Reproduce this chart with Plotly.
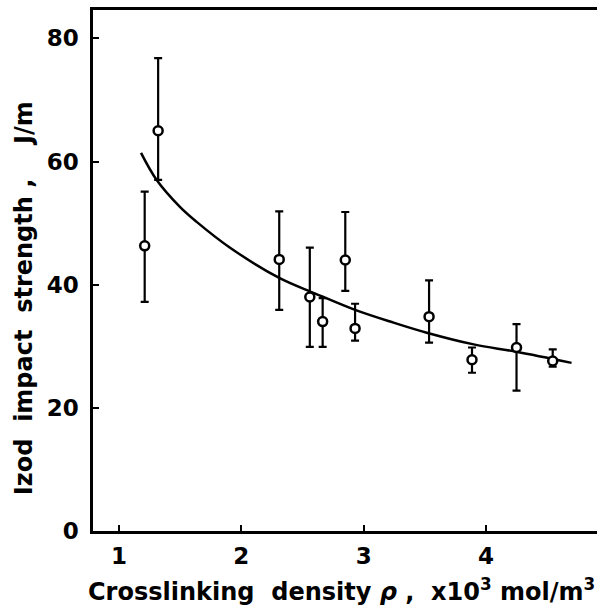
import plotly.graph_objects as go

# Measured data (crosslinking density, x10^3 mol/m^3) and Izod impact strength (J/m)
density = [1.21, 1.32, 2.31, 2.56, 2.665, 2.85, 2.93, 3.535, 3.886, 4.25, 4.546]
strength = [46.3, 65.0, 44.1, 38.0, 34.0, 44.0, 32.9, 34.8, 27.8, 29.8, 27.6]
err_top = [55.1, 76.8, 51.9, 46.0, 37.8, 51.8, 36.9, 40.7, 29.8, 33.6, 29.5]
err_bottom = [37.2, 57.0, 35.9, 29.9, 29.9, 39.0, 30.9, 30.6, 25.7, 22.8, 26.7]

# Fitted curve
curve_x = [1.18, 1.308, 1.5, 1.635, 1.908, 2.31, 2.6, 2.93, 3.25, 3.516, 3.9, 4.25, 4.70]
curve_y = [61.4, 57.0, 52.6, 50.2, 46.0, 41.1, 38.6, 35.9, 33.8, 32.2, 30.3, 29.1, 27.3]

x_ticks = [1, 2, 3, 4]
y_ticks = [0, 20, 40, 60, 80]

plus = [t - s for t, s in zip(err_top, strength)]
minus = [s - b for s, b in zip(strength, err_bottom)]

fig = go.Figure()
fig.add_trace(go.Scatter(
    x=curve_x, y=curve_y, mode="lines",
    line=dict(color="black", width=2.5, shape="spline", smoothing=1.0),
    hoverinfo="skip", showlegend=False))
fig.add_trace(go.Scatter(
    x=density, y=strength, mode="markers",
    marker=dict(symbol="circle", size=9, color="white",
                line=dict(color="black", width=2.5)),
    error_y=dict(type="data", symmetric=False, array=plus, arrayminus=minus,
                 color="black", thickness=2.2, width=4),
    showlegend=False))

ff = "DejaVu Sans"
title_font = dict(size=24, family=ff, weight="bold", color="black")
fig.update_layout(
    width=597, height=606,
    margin=dict(l=93, r=0, t=10, b=75, pad=0),
    paper_bgcolor="white", plot_bgcolor="white",
    font=dict(family=ff, color="black"),
    xaxis=dict(range=[0.7874, 4.908], tickvals=x_ticks, ticks="inside", ticklen=6,
               tickwidth=2, tickcolor="black", showline=True, linewidth=2.5,
               linecolor="black", mirror=True, showgrid=False, zeroline=False,
               ticklabelstandoff=3,
               tickfont=dict(size=23, family=ff, weight="bold")),
    yaxis=dict(range=[0, 84.6], tickvals=y_ticks, ticks="inside", ticklen=6,
               tickwidth=2, tickcolor="black", showline=True, linewidth=2.5,
               linecolor="black", mirror=False, showgrid=False, zeroline=False,
               ticklabelstandoff=7,
               tickfont=dict(size=23, family=ff, weight="bold")),
    annotations=[
        dict(text="Crosslinking  density <i>ρ</i> ,  x10<sup>3</sup> mol/m<sup>3</sup>",
             xref="paper", yref="paper", x=0.494, y=-0.1132, xanchor="center",
             yanchor="middle", showarrow=False, font=title_font),
        dict(text="Izod  impact  strength ,",
             xref="paper", yref="paper", x=-0.137, y=0.372, xanchor="center",
             yanchor="middle", textangle=-90, showarrow=False, font=title_font),
        dict(text="J/m",
             xref="paper", yref="paper", x=-0.137, y=0.783, xanchor="center",
             yanchor="middle", textangle=-90, showarrow=False, font=title_font),
    ],
)
fig.write_html(
    "out.html",
    config={"displayModeBar": False},
    post_script="document.body.style.margin='0px';document.body.style.overflow='hidden';",
)
